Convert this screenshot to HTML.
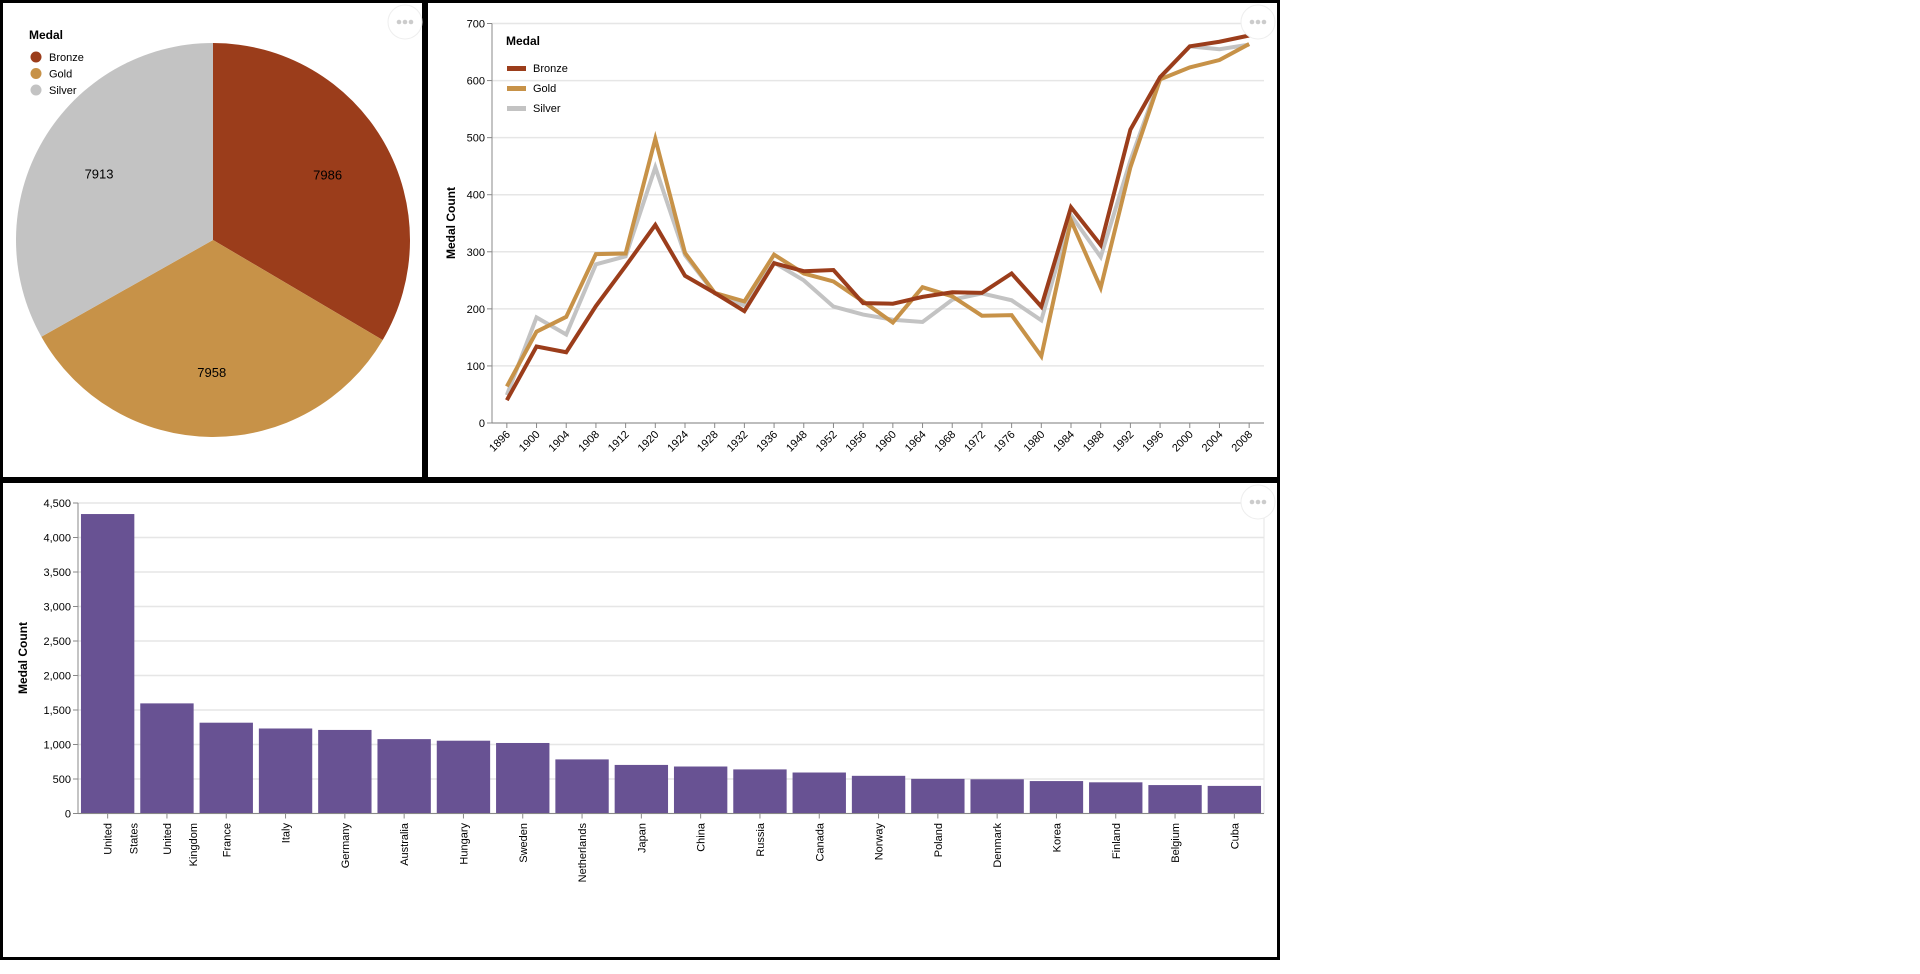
<!DOCTYPE html>
<html><head><meta charset="utf-8"><style>
html,body{margin:0;padding:0;background:#fff;}
body{width:1920px;height:969px;position:relative;overflow:hidden;font-family:"Liberation Sans",sans-serif;}
svg text{font-family:"Liberation Sans",sans-serif;}
</style></head><body>
<svg id="root" width="1920" height="969">
  <rect x="0" y="0" width="1920" height="969" fill="#fff"/>
  <!-- panel borders -->
  <g fill="#000">
    <rect x="0" y="0" width="1280" height="3"/>
    <rect x="0" y="0" width="3" height="960"/>
    <rect x="1277" y="0" width="3" height="960"/>
    <rect x="0" y="477" width="1280" height="6"/>
    <rect x="0" y="957" width="1280" height="3"/>
    <rect x="422" y="0" width="6" height="480"/>
  </g>
  <g id="pie"></g>
  <g id="line"></g>
  <g id="bar"></g>
</svg>
<script>
const NS='http://www.w3.org/2000/svg';
function mk(parent,tag,attrs,text){const e=document.createElementNS(NS,tag);for(const k in attrs)e.setAttribute(k,attrs[k]);if(text!==undefined)e.textContent=text;parent.appendChild(e);return e;}

// ---------- data ----------
const medalNames=['Bronze','Gold','Silver'];
const medalColors=['#9b3d1b','#c79248','#c3c3c3'];
const pieTotals=[7986,7958,7913];

const years=[1896,1900,1904,1908,1912,1920,1924,1928,1932,1936,1948,1952,1956,1960,1964,1968,1972,1976,1980,1984,1988,1992,1996,2000,2004,2008];
const bronzeCounts=[40,134,124,205,275,347,258,228,196,280,266,268,210,209,221,229,228,262,204,378,312,514,606,660,668,679];
const goldCounts=[64,160,186,296,297,498,298,228,213,295,262,248,213,176,238,222,188,189,117,355,237,448,602,623,636,664];
const silverCounts=[49,185,155,278,292,448,294,227,206,281,250,204,190,181,177,216,227,215,180,364,291,460,605,660,655,663];
const lineTicks=[0,100,200,300,400,500,600,700];

const countries=['United States','United Kingdom','France','Italy','Germany','Australia','Hungary','Sweden','Netherlands','Japan','China','Russia','Canada','Norway','Poland','Denmark','Korea','Finland','Belgium','Cuba'];
const countryCounts=[4340,1596,1316,1232,1211,1078,1055,1022,784,704,681,639,594,546,502,496,470,452,412,400];
const barTicks=[0,500,1000,1500,2000,2500,3000,3500,4000,4500];

function moreBtn(g,cx,cy,name){
  const b=mk(g,'g',{});
  
  
  mk(b,'circle',{cx:cx,cy:cy,r:17,fill:'#fff',stroke:'#eee','stroke-width':1});
  for(let i=-1;i<=1;i++)mk(b,'circle',{cx:cx+i*6,cy:cy,r:2.3,fill:'#ccc'});
}

// ---------- pie ----------
(function(){
  const g=document.getElementById('pie');
  const cx=213,cy=240,r=197;
  const total=pieTotals.reduce((a,b)=>a+b,0);
  let a0=0;
  pieTotals.forEach((v,i)=>{
    const a1=a0+v/total*2*Math.PI;
    const x0=cx+r*Math.sin(a0),y0=cy-r*Math.cos(a0),x1=cx+r*Math.sin(a1),y1=cy-r*Math.cos(a1);
    const p=mk(g,'path',{d:`M${cx},${cy}L${x0},${y0}A${r},${r} 0 ${a1-a0>Math.PI?1:0} 1 ${x1},${y1}Z`,fill:medalColors[i]});
    
    
    const am=(a0+a1)/2,lr=r*0.67;
    const t=mk(g,'text',{x:cx+lr*Math.sin(am),y:cy-lr*Math.cos(am)+5,'text-anchor':'middle','font-size':13,fill:'#000'},String(v));
    
    
    a0=a1;
  });
  const lg=mk(g,'g',{});
  
  
  mk(lg,'text',{x:29,y:39,'font-size':12,'font-weight':'bold',fill:'#000'},'Medal');
  medalNames.forEach((n,i)=>{
    const e=mk(lg,'g',{});
    
    
    mk(e,'circle',{cx:36,cy:57+i*16.5,r:5.5,fill:medalColors[i]});
    mk(e,'text',{x:49,y:61+i*16.5,'font-size':11,fill:'#000'},n);
  });
  moreBtn(g,405,22,'pie-menu-button');
})();

// ---------- line ----------
(function(){
  const g=document.getElementById('line');
  const X0=492,X1=1264,Y0=423,Y1=23.5;
  const step=(X1-X0)/years.length;
  const xs=i=>X0+step*(i+0.5);
  const ys=v=>Y0-(v/700)*(Y0-Y1);
  lineTicks.forEach(t=>{
    mk(g,'line',{x1:X0,x2:X1,y1:ys(t),y2:ys(t),stroke:'#e6e6e6','stroke-width':1.5});
    mk(g,'line',{x1:X0-5,x2:X0,y1:ys(t),y2:ys(t),stroke:'#888'});
    const tl=mk(g,'text',{x:X0-7,y:ys(t)+4,'text-anchor':'end','font-size':11,fill:'#000'},String(t));
    
    
  });
  mk(g,'line',{x1:X0,x2:X0,y1:Y1,y2:Y0,stroke:'#888'});
  mk(g,'line',{x1:X0,x2:X1,y1:Y0,y2:Y0,stroke:'#888'});
  years.forEach((y,i)=>{
    mk(g,'line',{x1:xs(i),x2:xs(i),y1:Y0,y2:Y0+5,stroke:'#888'});
    const tl=mk(g,'text',{x:xs(i)+4,y:Y0+12,'text-anchor':'end','font-size':11,fill:'#000',transform:`rotate(-45 ${xs(i)+4} ${Y0+12})`},String(y));
    
    
  });
  const yt=mk(g,'text',{x:0,y:0,'text-anchor':'middle','font-size':12,'font-weight':'bold',fill:'#000',transform:'translate(455,223) rotate(-90)'},'Medal Count');
  
  
  const series=[bronzeCounts,goldCounts,silverCounts];
  [2,1,0].forEach(si=>{
    const d=series[si].map((v,i)=>(i?'L':'M')+xs(i)+','+ys(v)).join('');
    const p=mk(g,'path',{d:d,fill:'none',stroke:medalColors[si],'stroke-width':4,'stroke-linejoin':'miter'});
    
    
  });
  const lg=mk(g,'g',{});
  
  
  mk(lg,'text',{x:506,y:45,'font-size':12,'font-weight':'bold',fill:'#000'},'Medal');
  medalNames.forEach((n,i)=>{
    const e=mk(lg,'g',{});
    
    
    mk(e,'rect',{x:507,y:66+i*20,width:19,height:5,fill:medalColors[i]});
    mk(e,'text',{x:533,y:72+i*20,'font-size':11,fill:'#000'},n);
  });
  moreBtn(g,1258,22,'line-menu-button');
})();

// ---------- bar ----------
(function(){
  const g=document.getElementById('bar');
  const X0=78,X1=1264,Y0=813.5,Y1=503;
  const step=(X1-X0)/countries.length;
  const bw=step*0.9;
  const ys=v=>Y0-(v/4500)*(Y0-Y1);
  barTicks.forEach(t=>{
    mk(g,'line',{x1:X0,x2:X1,y1:ys(t),y2:ys(t),stroke:'#e6e6e6','stroke-width':1.5});
    mk(g,'line',{x1:X0-5,x2:X0,y1:ys(t),y2:ys(t),stroke:'#888'});
    const tl=mk(g,'text',{x:X0-7,y:ys(t)+4,'text-anchor':'end','font-size':11,fill:'#000'},t.toLocaleString('en-US'));
    
    
  });
  mk(g,'line',{x1:X1,x2:X1,y1:Y1,y2:Y0,stroke:'#e6e6e6'});
  countries.forEach((c,i)=>{
    const x=X0+step*i+(step-bw)/2;
    const r=mk(g,'rect',{x:x,y:ys(countryCounts[i]),width:bw,height:Y0-ys(countryCounts[i]),fill:'#685293'});
    
    
    const cxp=X0+step*(i+0.5);
    mk(g,'line',{x1:cxp,x2:cxp,y1:Y0,y2:Y0+5,stroke:'#888'});
    const words=c.split(' ');
    words.forEach((w,j)=>{
      const tx=cxp+4+j*26;
      const tl=mk(g,'text',{x:tx,y:823,'text-anchor':'end','font-size':11,fill:'#000',transform:`rotate(-90 ${tx} 823)`},w);
      
      
    });
  });
  mk(g,'line',{x1:X0,x2:X0,y1:Y1,y2:Y0,stroke:'#888'});
  mk(g,'line',{x1:X0,x2:X1,y1:Y0,y2:Y0,stroke:'#888'});
  const yt=mk(g,'text',{x:0,y:0,'text-anchor':'middle','font-size':12,'font-weight':'bold',fill:'#000',transform:'translate(27,658) rotate(-90)'},'Medal Count');
  
  
  moreBtn(g,1258,502,'bar-menu-button');
})();
</script>
</body></html>
